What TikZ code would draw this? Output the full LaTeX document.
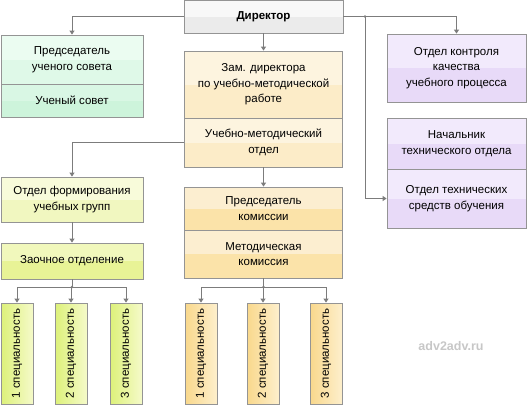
\documentclass[tikz,border=0pt]{standalone}
\usepackage{fontspec}
\setmainfont{Liberation Sans}
\usetikzlibrary{arrows.meta}
\definecolor{rama}{HTML}{949494}
\definecolor{liniya}{HTML}{7C7C7C}
\definecolor{serS}{HTML}{F8F8F8}\definecolor{serN}{HTML}{EBEBEB}
\definecolor{zelS}{HTML}{EBFCF1}\definecolor{zelN}{HTML}{DFF9E8}
\definecolor{zelvS}{HTML}{D9F7E4}\definecolor{zelvN}{HTML}{CDF4DB}
\definecolor{oraS}{HTML}{FDF4DF}\definecolor{oraN}{HTML}{FCECC8}
\definecolor{oravS}{HTML}{FCEED0}\definecolor{oravN}{HTML}{FBE3A9}
\definecolor{filS}{HTML}{F2EAFC}\definecolor{filN}{HTML}{E8DAF8}
\definecolor{salS}{HTML}{F8FBDA}\definecolor{salN}{HTML}{F1F7C0}
\definecolor{salvS}{HTML}{F1F8BC}\definecolor{salvN}{HTML}{E8F396}
\definecolor{specZL}{HTML}{DDF17A}\definecolor{specZP}{HTML}{F5FAC9}
\definecolor{specOL}{HTML}{F9D88C}\definecolor{specOP}{HTML}{FDEFCC}
\newcommand{\tekst}{\fontsize{11.5}{15.5}\selectfont}

\begin{document}
\begin{tikzpicture}[x=1pt, y=-1pt,
    blok/.style 2 args={draw=rama, line width=0.8pt, align=center, inner sep=0pt,
      font=\tekst, fill=#1,
      path picture={\fill[#2] (path picture bounding box.west) rectangle (path picture bounding box.south east);}},
    spec/.style 2 args={draw=rama, line width=0.8pt, inner sep=0pt, font=\tekst,
      left color=#1, right color=#2, minimum width=32pt, minimum height=101pt},
    strel/.style={-{Triangle[length=4pt, width=5pt]}, line width=0.9pt, color=liniya},
    uzel/.style={fill=liniya}]
  \useasboundingbox (0,0) rectangle (530,405);
  % verkh
  \node[blok={serS}{serN}, minimum width=159pt, minimum height=33pt, font=\tekst\bfseries] (dir) at (263.5,16.5) {Директор};
  \node[blok={zelS}{zelN}, minimum width=142pt, minimum height=49pt] (pus) at (72,59.5) {Председатель\\ученого совета};
  \node[blok={zelvS}{zelvN}, minimum width=142pt, minimum height=33pt] (us) at (72,100.5) {Ученый совет};
  \node[blok={oraS}{oraN}, minimum width=158pt, minimum height=67pt] (zam) at (263.5,84.5) {Зам. директора\\по учебно-методической\\работе};
  \node[blok={oraS}{oraN}, minimum width=158pt, minimum height=49pt] (umo) at (263.5,142.5) {Учебно-методический\\отдел};
  \node[blok={filS}{filN}, minimum width=139pt, minimum height=68pt] (okk) at (456.5,68) {Отдел контроля\\качества\\учебного процесса};
  \node[blok={filS}{filN}, minimum width=139pt, minimum height=51pt] (nto) at (456.5,143.5) {Начальник\\технического отдела};
  \node[blok={filS}{filN}, minimum width=139pt, minimum height=59pt] (ots) at (456.5,198.5) {Отдел технических\\средств обучения};
  % seredina
  \node[blok={salS}{salN}, minimum width=142pt, minimum height=45pt] (ofg) at (72,199.5) {Отдел формирования\\учебных групп};
  \node[blok={salvS}{salvN}, minimum width=142pt, minimum height=36pt] (zao) at (72,261) {Заочное отделение};
  \node[blok={oravS}{oravN}, minimum width=158pt, minimum height=43pt] (pk) at (263.5,208.5) {Председатель\\комиссии};
  \node[blok={oravS}{oravN}, minimum width=158pt, minimum height=48pt] (mk) at (263.5,254) {Методическая\\комиссия};
  % specialnosti
  \foreach \i/\x in {1/17, 2/71, 3/126}
    \node[spec={specZL}{specZP}] (g\i) at (\x,353.5) {\rotatebox{90}{\i\ специальность}};
  \foreach \i/\x in {1/201, 2/263, 3/326}
    \node[spec={specOL}{specOP}] (o\i) at (\x,353.5) {\rotatebox{90}{\i\ специальность}};
  \node[font=\bfseries\fontsize{12.5}{14}\selectfont, text=black!22] (znak) at (451,346) {adv2adv.ru};
  % strelki
  \coordinate (uzel1) at (365,16.5);
  \coordinate (uzel2) at (72,287);
  \coordinate (uzel3) at (263.5,287);
  \draw[strel] (dir.west) -| (pus.north);
  \draw[strel] (dir.south) -- (zam.north);
  \draw[strel] (dir.east) -| (okk.north);
  \draw[strel] (uzel1) |- (ots.west);
  \draw[strel] (umo.west) -| (ofg.north);
  \draw[strel] (ofg.south) -- (zao.north);
  \draw[strel] (umo.south) -- (pk.north);
  \draw[line width=0.9pt, color=liniya] (zao.south) -- (uzel2);
  \draw[line width=0.9pt, color=liniya] (mk.south) -- (uzel3);
  \foreach \i in {1,2,3} {
    \draw[strel] (uzel2) -| (g\i.north);
    \draw[strel] (uzel3) -| (o\i.north);
  }
  \foreach \u in {uzel1, uzel2, uzel3}
    \fill[uzel] (\u) circle (1.4pt);
\end{tikzpicture}
\end{document}
